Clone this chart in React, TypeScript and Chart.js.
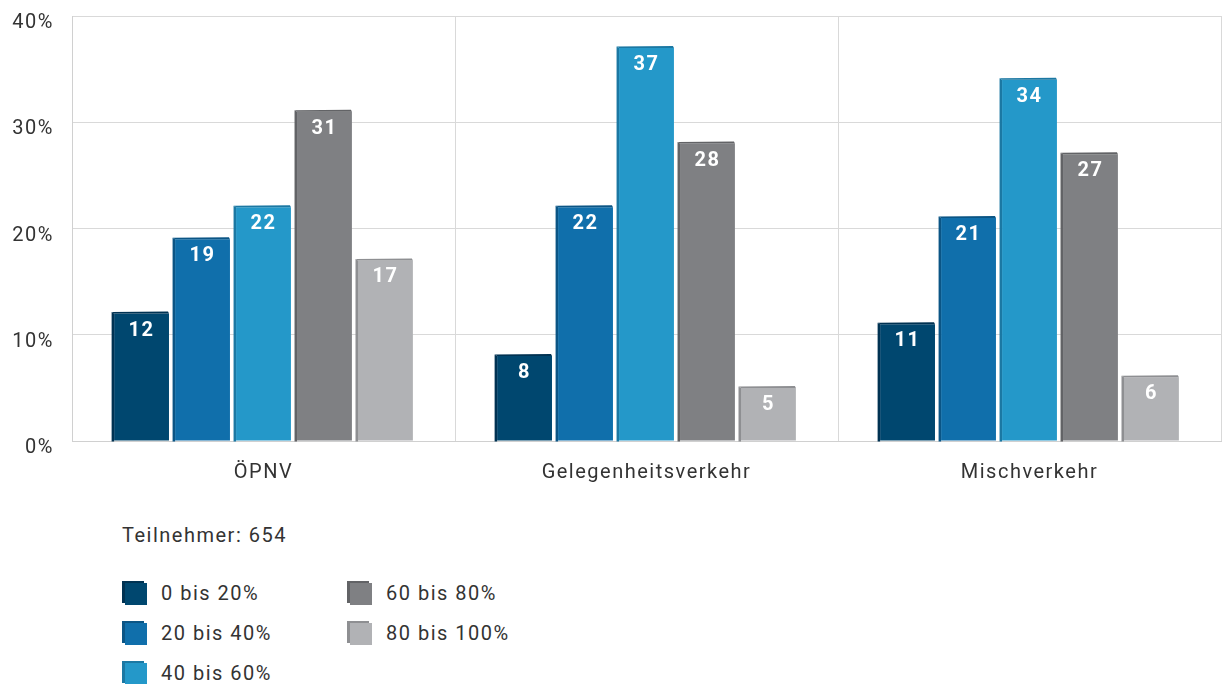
import React, { useEffect, useRef } from "react";
import { Chart, registerables } from "chart.js";

Chart.register(...registerables);

const categories = ["ÖPNV", "Gelegenheitsverkehr", "Mischverkehr"];
const seriesLabels = ["0 bis 20%", "20 bis 40%", "40 bis 60%", "60 bis 80%", "80 bis 100%"];
const s0to20 = [12, 8, 11];
const s20to40 = [19, 22, 21];
const s40to60 = [22, 37, 34];
const s60to80 = [31, 28, 27];
const s80to100 = [17, 5, 6];
const yTicks = [0, 10, 20, 30, 40];
const participants = "Teilnehmer: 654";

const frontColors = ["#00476f", "#106fab", "#2498c9", "#7f8083", "#b1b2b5"];
const sideColors = ["#003252", "#0b5585", "#1b78a3", "#626366", "#8e8f92"];

const FONT = "Roboto, 'DejaVu Sans', sans-serif";
const SPACING = "1.5px";

const spacingPlugin = {
  id: "spacing",
  beforeDraw(chart: any) {
    try {
      chart.ctx.letterSpacing = SPACING;
    } catch (e) {}
  },
};

const threeD = {
  id: "threeD",
  afterDatasetsDraw(chart: any) {
    const ctx = chart.ctx;
    chart.data.datasets.forEach((ds: any, di: number) => {
      const meta = chart.getDatasetMeta(di);
      meta.data.forEach((el: any, i: number) => {
        const p = el.getProps(["x", "y", "base", "width"], true);
        const L = p.x - p.width / 2;
        const R = p.x + p.width / 2;
        const T = p.y;
        const B = p.base;
        const d = 2.5;
        ctx.save();
        ctx.fillStyle = sideColors[di];
        ctx.beginPath();
        ctx.moveTo(L, T);
        ctx.lineTo(L - d, T - 1.5);
        ctx.lineTo(L - d, B + 1);
        ctx.lineTo(L, B + 1);
        ctx.closePath();
        ctx.fill();
        ctx.beginPath();
        ctx.moveTo(L, T);
        ctx.lineTo(L - d, T - 1.5);
        ctx.lineTo(R - 1, T - 2);
        ctx.lineTo(R, T);
        ctx.closePath();
        ctx.fill();
        ctx.fillStyle = "#ffffff";
        ctx.font = `bold 20px ${FONT}`;
        ctx.textAlign = "center";
        ctx.textBaseline = "middle";
        ctx.fillText(String(ds.data[i]), p.x, T + 17);
        ctx.restore();
      });
    });
  },
};

function LegendBox({ color, side }: { color: string; side: string }) {
  return (
    <div
      style={{
        width: 22,
        height: 22,
        background: color,
        boxShadow: `-3px -2px 0 ${side}`,
        display: "inline-block",
        marginLeft: 3,
        marginTop: 2,
      }}
    />
  );
}

const CANVAS_SHIFT = 14;

export default function App() {
  const ref = useRef<HTMLCanvasElement | null>(null);
  useEffect(() => {
    if (!ref.current) return;
    const all = [s0to20, s20to40, s40to60, s60to80, s80to100];
    const chart = new Chart(ref.current, {
      type: "bar",
      data: {
        labels: categories,
        datasets: all.map((d, i) => ({
          label: seriesLabels[i],
          data: d,
          backgroundColor: frontColors[i],
          borderWidth: 0,
          categoryPercentage: 0.796,
          barPercentage: 0.9,
        })),
      },
      options: {
        animation: false,
        responsive: false,
        maintainAspectRatio: false,
        layout: { padding: { top: 0, right: 1, left: 0, bottom: 0 } },
        plugins: { legend: { display: false }, tooltip: { enabled: false } },
        scales: {
          x: {
            grid: { color: "#d9d9d9", drawTicks: false, offset: true },
            border: { color: "#d0d0d0" },
            ticks: { color: "#333333", font: { family: FONT, size: 20 }, padding: 20 },
            afterFit: (s: any) => {
              s.height = 59;
            },
          },
          y: {
            min: 0,
            max: 40,
            afterBuildTicks: (s: any) => {
              s.ticks = yTicks.map((v) => ({ value: v }));
            },
            grid: { color: "#d9d9d9", drawTicks: false },
            border: { color: "#d0d0d0" },
            ticks: {
              color: "#333333",
              font: { family: FONT, size: 20 },
              padding: 18,
              labelOffset: 7,
              callback: (v: any) => `${v}%`,
            },
            afterFit: (s: any) => {
              s.width = 72;
            },
          },
        },
      },
      plugins: [spacingPlugin, threeD],
    });
    return () => chart.destroy();
  }, []);

  const textStyle: React.CSSProperties = {
    fontFamily: FONT,
    fontSize: 20,
    color: "#333333",
    position: "absolute",
    whiteSpace: "nowrap",
    lineHeight: "24px",
    letterSpacing: SPACING,
  };

  const legendPos = [
    { x: 122, y: 581 },
    { x: 122, y: 621 },
    { x: 122, y: 661 },
    { x: 347, y: 581 },
    { x: 347, y: 621 },
  ];

  return (
    <div style={{ position: "fixed", left: 0, top: 0, width: 1222, height: 684, background: "#fff", overflow: "hidden" }}>
      <canvas
        ref={ref}
        width={1222}
        height={500 + CANVAS_SHIFT}
        style={{ position: "absolute", left: 0, top: -CANVAS_SHIFT }}
      />
      <div style={{ ...textStyle, left: 122, top: 523 }}>{participants}</div>
      {seriesLabels.map((lab, i) => (
        <React.Fragment key={lab}>
          <div style={{ position: "absolute", left: legendPos[i].x, top: legendPos[i].y }}>
            <LegendBox color={frontColors[i]} side={sideColors[i]} />
          </div>
          <div style={{ ...textStyle, left: legendPos[i].x + 39, top: legendPos[i].y }}>{lab}</div>
        </React.Fragment>
      ))}
    </div>
  );
}
